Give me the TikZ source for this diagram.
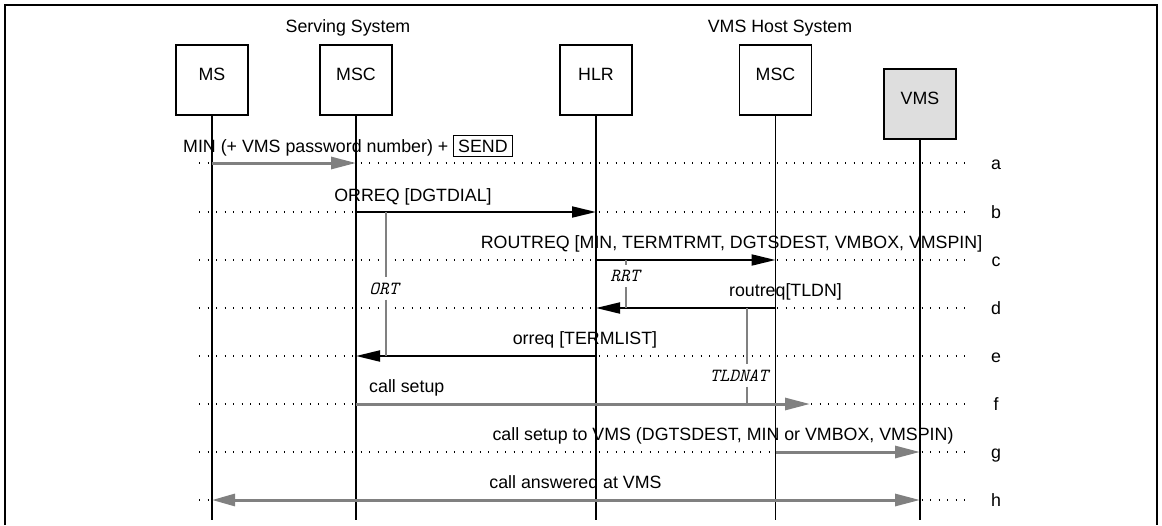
\documentclass[tikz,border=0pt]{standalone}
\usepackage{fontspec}
\setmainfont{Liberation Sans}
\usetikzlibrary{arrows.meta}
\definecolor{msggray}{HTML}{808080}
\definecolor{vmsgray}{HTML}{DEDEDE}
\setlength{\fboxsep}{4pt}
\setlength{\fboxrule}{1pt}
\begin{document}
\begin{tikzpicture}[x=1pt,y=-1pt,
  font=\fontsize{17.8}{21}\selectfont,
  entity/.style={draw,line width=1.6pt,minimum width=72pt,minimum height=70pt,inner sep=0pt,text height=13pt,text depth=13pt},
  life/.style={line width=1.6pt},
  dotrow/.style={line width=1.2pt,dash pattern=on 1.2pt off 7.3pt},
  msgblack/.style={line width=2pt,-{Triangle[length=24pt,width=11pt]}},
  msggrey/.style={line width=3pt,color=msggray,-{Triangle[length=25pt,width=12pt]}},
  timerline/.style={line width=1.6pt,draw=msggray},
  timer/.style={font=\ttfamily\itshape\fontsize{18.5}{20}\selectfont,inner sep=0pt,minimum height=22pt},
  msglab/.style={anchor=base,inner sep=0pt}
]
\useasboundingbox (0,0) rectangle (1162,525);
\draw[line width=2pt] (5,525) -- (5,5) -- (1157,5) -- (1157,525);

% group titles
\node[msglab] (ss) at (348,32) {Serving System};
\node[msglab] (vhs) at (780,32) {VMS Host System};

% row coordinates
\coordinate (ra) at (0,163);
\coordinate (rb) at (0,212);
\coordinate (rc) at (0,260);
\coordinate (rd) at (0,308);
\coordinate (re) at (0,356);
\coordinate (rf) at (0,404);
\coordinate (rg) at (0,452);
\coordinate (rh) at (0,500);
\coordinate (dl) at (199,0);
\coordinate (dr) at (970,0);
\coordinate (bot) at (0,520);

% dotted rows and row letters
\foreach \r/\l in {ra/a,rb/b,rc/c,rd/d,re/e,rf/f,rg/g,rh/h}{
  \draw[dotrow] (dl |- \r) -- (dr |- \r);
  \node[msglab] (lab\l) at ([yshift=-6pt]996,0 |- \r) {\l};
}

% entities
\node[entity] (ms) at (212,80) {MS};
\node[entity] (msc1) at (356,80) {MSC};
\node[entity] (hlr) at (596,80) {HLR};
\node[entity] (msc2) at (775.5,80) {MSC};
\node[entity,fill=vmsgray] (vms) at (920,104) {VMS};

% lifelines
\foreach \e in {ms,msc1,hlr,msc2,vms}{
  \draw[life] (\e.south) -- (\e.south |- bot);
}

% messages
\draw[msggrey] (ms |- ra) -- (msc1 |- ra);
\draw[msgblack] (msc1 |- rb) -- (hlr |- rb);
\draw[msgblack] (hlr |- rc) -- (msc2 |- rc);
\draw[msgblack] (msc2 |- rd) -- (hlr |- rd);
\draw[msgblack] (hlr |- re) -- (msc1 |- re);
\coordinate (fend) at (810,0);
\draw[msggrey] (msc1 |- rf) -- (fend |- rf);
\draw[msggrey] (msc2 |- rg) -- (vms |- rg);
\draw[msggrey,{Triangle[length=23pt,width=12pt]}-{Triangle[length=25pt,width=12pt]}] (ms |- rh) -- (vms |- rh);

% message labels
\node[msglab,anchor=base west] (ta) at (183,152) {MIN (+ VMS password number) + \fbox{SEND}};
\node[msglab] (tb) at (413,201) {ORREQ [DGTDIAL]};
\node[msglab] (tc) at (731.5,248) {ROUTREQ [MIN, TERMTRMT, DGTSDEST, VMBOX, VMSPIN]};
\node[msglab] (td) at (785.5,296) {routreq[TLDN]};
\node[msglab] (te) at (585,344) {orreq [TERMLIST]};
\node[msglab,anchor=base west] (tf) at (369,392) {call setup};
\node[msglab] (tg) at (723,440) {call setup to VMS (DGTSDEST, MIN or VMBOX, VMSPIN)};
\node[msglab] (th) at (575.5,488) {call answered at VMS};

% timers
\coordinate (ortx) at (386,0);
\node[timer] (ort) at (384,288.5) {ORT};
\draw[timerline] (ortx |- rb) -- (ortx |- ort.north);
\draw[timerline] (ortx |- ort.south) -- (ortx |- re);

\coordinate (rrtx) at (626,0);
\node[timer] (rrt) at (625,276) {RRT};
\draw[timerline] (rrtx |- rc) -- (rrtx |- rrt.north);
\draw[timerline] (rrtx |- rrt.south) -- (rrtx |- rd);

\coordinate (tldx) at (747,0);
\node[timer] (tld) at (739,375.5) {TLDNAT};
\draw[timerline] (tldx |- rd) -- (tldx |- tld.north);
\draw[timerline] (tldx |- tld.south) -- (tldx |- rf);
\end{tikzpicture}
\end{document}
